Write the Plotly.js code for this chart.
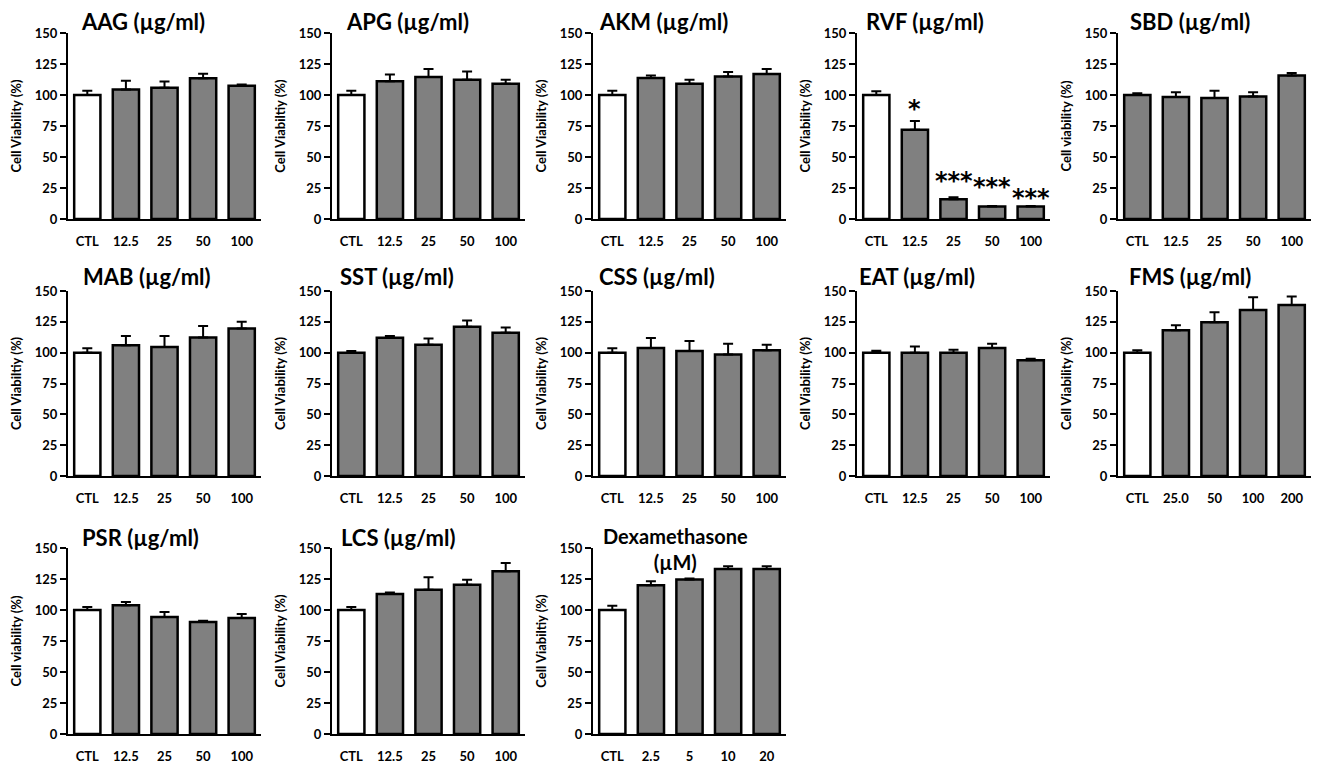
<!DOCTYPE html>
<html><head><meta charset="utf-8">
<script src="https://cdn.plot.ly/plotly-3.0.1.min.js"></script>
<style>html,body{margin:0;padding:0;background:#fff;} #chart{width:1327px;height:763px;}</style>
</head><body><div id="chart"></div>
<script>
// ---------- data ----------
const concLabels = ['CTL','12.5','25','50','100'];
const fmsLabels  = ['CTL','25.0','50','100','200'];
const dexLabels  = ['CTL','2.5','5','10','20'];

const aagMean=[100,104.5,105.8,113.6,107.5]; const aagErr=[3.5,7,5,3.5,1];
const apgMean=[100,111,114.5,112.3,109];     const apgErr=[3.5,5.5,6.5,6.7,3.2];
const akmMean=[100,113.7,109,115,117];       const akmErr=[3.5,2,3.2,3.5,4];
const rvfMean=[100,72,16,10,10];             const rvfErr=[3,7,1.5,0.4,0.4];
const sbdMean=[100,98.3,97.5,98.8,115.8];    const sbdErr=[1.5,4,6,3.5,2];
const mabMean=[100,106,104.6,112.2,119.5];   const mabErr=[3.5,7.5,9,9.5,5.5];
const sstMean=[100,112,106.5,121,116.2];     const sstErr=[1.4,1.5,5,5,4.3];
const cssMean=[100,103.8,101.4,98.6,101.9];  const cssErr=[3.5,8,8,8.7,4.6];
const eatMean=[100,100,100,103.8,93.8];      const eatErr=[1.5,5,2.4,3.5,1.3];
const fmsMean=[100,118.2,124.7,134.5,138.6]; const fmsErr=[2,4,8,10.5,7];
const psrMean=[100,103.8,94.4,90.3,93.5];    const psrErr=[2.5,2.7,4,1,3.3];
const lcsMean=[100,112.9,116.4,120.4,131.2]; const lcsErr=[2.5,1.3,10,4,6.7];
const dexMean=[100,119.9,124.5,133,133];     const dexErr=[3.5,3.2,1,2.2,2.2];

const rvfStars=['','*','***','***','***'];
const rvfStarLevel=[null,92,34,29,20];
const yTicks=[0,25,50,75,100,125,150];

const titles=['AAG (µg/ml)','APG (µg/ml)','AKM (µg/ml)','RVF (µg/ml)','SBD (µg/ml)',
  'MAB (µg/ml)','SST (µg/ml)','CSS (µg/ml)','EAT (µg/ml)','FMS (µg/ml)',
  'PSR (µg/ml)','LCS (µg/ml)','Dexamethasone<br>(µM)'];
const yLabels=['Cell Viability (%)','Cell Viabiltiy (%)','Cell Viability (%)','Cell Viability (%)','Cell viability (%)',
  'Cell Viabiltiy (%)','Cell Viability (%)','Cell Viability (%)','Cell Viability (%)','Cell Viability (%)',
  'Cell viability (%)','Cell Viability (%)','Cell Viabiltiy (%)'];
const catSets=[concLabels,concLabels,concLabels,concLabels,concLabels,
  concLabels,concLabels,concLabels,concLabels,fmsLabels,
  concLabels,concLabels,dexLabels];
const means=[aagMean,apgMean,akmMean,rvfMean,sbdMean,mabMean,sstMean,cssMean,eatMean,fmsMean,psrMean,lcsMean,dexMean];
const errs=[aagErr,apgErr,akmErr,rvfErr,sbdErr,mabErr,sstErr,cssErr,eatErr,fmsErr,psrErr,lcsErr,dexErr];
const ctlFilled=[false,false,false,false,true,false,true,false,false,false,false,false,false];

// ---------- layout geometry (pixels) ----------
const W=1327,H=763;
const colX=[68,332,593,857,1118]; const axW=193;
const rowY=[[33,219],[291,476],[548,734]];
const titleX=[143,407,663,925,1190, 147,397,657,917,1190, 140,398,676];
const titleY=[21,277,537];
const FONT='Lato, "Open Sans", sans-serif';
const GRAY='#808080';

const data=[]; const annotations=[];
const layout={width:W,height:H,margin:{l:0,r:0,t:0,b:0},paper_bgcolor:'#fff',plot_bgcolor:'rgba(0,0,0,0)',
  showlegend:false,bargap:0.32,font:{family:FONT,color:'#000'}};

for(let i=0;i<13;i++){
  const r=Math.floor(i/5), c=i%5, n=i+1;
  const xa='x'+(n===1?'':n), ya='y'+(n===1?'':n);
  const colors=means[i].map((v,k)=>k===0 ? (ctlFilled[i]?GRAY:'#ffffff') : GRAY);
  data.push({type:'bar',x:catSets[i],y:means[i],xaxis:xa,yaxis:ya,
    marker:{color:colors,line:{color:'#000',width:2.5}},
    error_y:{type:'data',array:errs[i],arrayminus:errs[i].map(()=>0),symmetric:false,color:'#000',thickness:2,width:5},
    hoverinfo:'x+y'});
  const x0=colX[c]/W, x1=(colX[c]+axW)/W;
  const y0=1-rowY[r][1]/H, y1=1-rowY[r][0]/H;
  layout['xaxis'+(n===1?'':n)]={domain:[x0,x1],anchor:ya,type:'category',range:[-0.5,4.5],
    showline:true,linecolor:'#000',linewidth:2,ticks:'outside',ticklen:9,tickcolor:'rgba(0,0,0,0)',
    showgrid:false,zeroline:false,fixedrange:true,
    tickfont:{family:FONT,size:13,weight:700,color:'#000'}};
  layout['yaxis'+(n===1?'':n)]={domain:[y0,y1],anchor:xa,range:[0,150],tickvals:yTicks,
    showline:true,linecolor:'#000',linewidth:2,ticks:'outside',ticklen:6,tickwidth:2,tickcolor:'#000',
    showgrid:false,zeroline:false,fixedrange:true,
    tickfont:{family:FONT,size:13,weight:700,color:'#000'},
    title:{text:yLabels[i],font:{family:FONT,size:13,weight:700,color:'#000'},standoff:10}};
  annotations.push({xref:'paper',yref:'paper',x:titleX[i]/W,
    y:1-(i===12?549:titleY[r])/H,xanchor:'center',yanchor:'middle',showarrow:false,
    text:titles[i],font:{family:FONT,size:i===12?20:22,weight:700,color:'#000'}});
}
// significance marks on RVF panel (x given as category index)
rvfStars.forEach((s,k)=>{
  if(!s) return;
  annotations.push({xref:'x4',yref:'y4',x:k,y:rvfStarLevel[k],text:s,showarrow:false,
    xanchor:'center',yanchor:'middle',yshift:-4,font:{family:'"DejaVu Sans", sans-serif',size:24,weight:700,color:'#000'}});
});
layout.annotations=annotations;
Plotly.newPlot('chart',data,layout,{displayModeBar:false,staticPlot:true});
</script></body></html>
